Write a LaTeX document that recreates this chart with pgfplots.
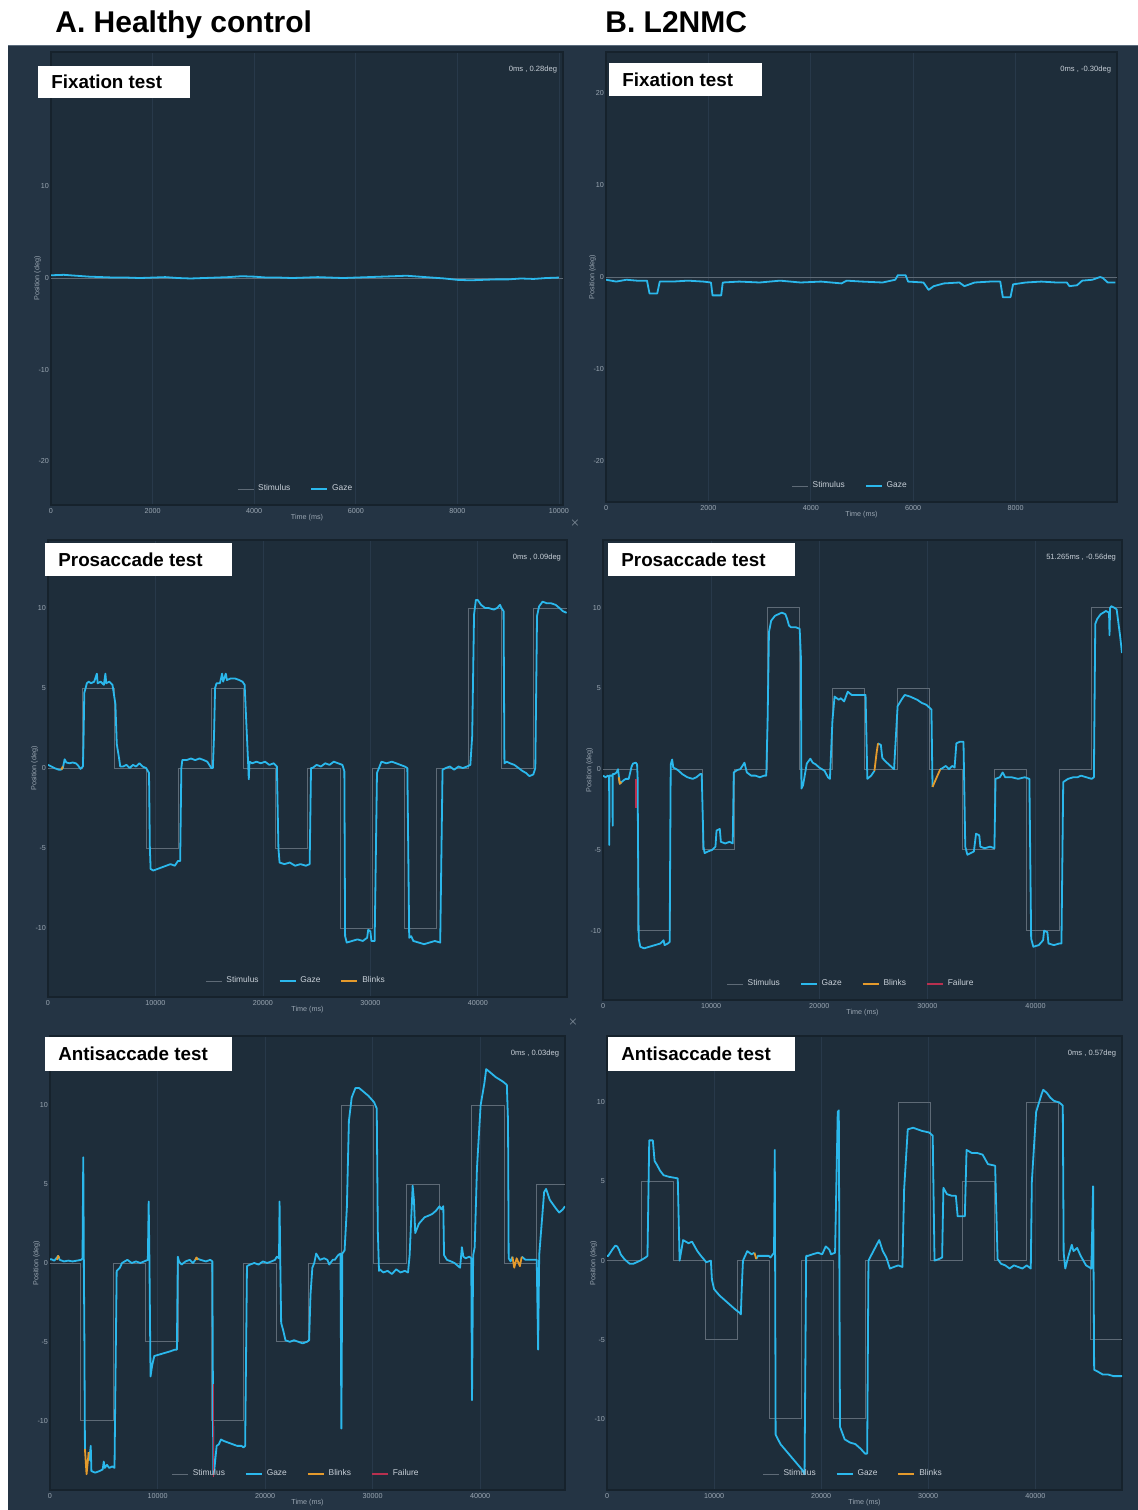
\documentclass[border=0pt]{standalone}
\usepackage{fontspec}
\setmainfont{Liberation Sans}
\usepackage{pgfplots}
\pgfplotsset{compat=1.18}
\definecolor{bg}{HTML}{243444}
\definecolor{plotbg}{HTML}{1E2D3A}
\definecolor{edgec}{HTML}{16222C}
\definecolor{gridc}{HTML}{28394A}
\definecolor{tickc}{HTML}{9AA6B2}
\definecolor{legc}{HTML}{C8D0D8}
\definecolor{stimc}{HTML}{5E6A76}
\definecolor{gazec}{HTML}{2BB8EC}
\definecolor{blinkc}{HTML}{E49A2C}
\definecolor{failc}{HTML}{B8304F}
\definecolor{topline}{HTML}{5A6B7C}
\pgfplotsset{
 panel/.style={
  scale only axis, anchor=south west,
  axis background/.style={fill=plotbg},
  axis line style={draw=edgec, line width=0.6pt},
  xmajorgrids,
  grid style={draw=gridc, line width=0.35pt},
  major tick length=0pt,
  tick label style={font=\fontsize{3.6}{4.3}\selectfont, text=tickc},
  xticklabel style={yshift=2pt},
  yticklabel style={xshift=2.5pt},
  /pgf/number format/assume math mode=true,
  /pgf/number format/1000 sep={},
  scaled x ticks=false,
  xlabel={Time (ms)}, ylabel={Position (deg)},
  label style={font=\fontsize{3.6}{4.3}\selectfont, text=tickc},
  xlabel style={yshift=6.5pt},
  ylabel style={yshift=-8pt},
  legend style={draw=none, fill=none, inner sep=0pt, font=\fontsize{4.2}{5}\selectfont, text=legc, legend columns=-1, at={(0.48,0)}, anchor=south, yshift=3.5pt, /tikz/every even column/.append style={column sep=8pt}},
  legend image code/.code={\draw[##1] (0pt,0pt) -- (8pt,0pt);},
 },
 stim/.style={draw=stimc, line width=0.45pt},
 gaze/.style={draw=gazec, line width=0.9pt, line join=round},
 blink/.style={draw=blinkc, line width=0.9pt, line join=round},
 fail/.style={draw=failc, line width=0.8pt},
}
\newcommand{\legS}{\addlegendimage{draw=stimc, line width=0.45pt}\addlegendentry{Stimulus}}
\newcommand{\legG}{\addlegendimage{draw=gazec, line width=0.9pt}\addlegendentry{Gaze}}
\newcommand{\legB}{\addlegendimage{draw=blinkc, line width=0.9pt}\addlegendentry{Blinks}}
\newcommand{\legF}{\addlegendimage{draw=failc, line width=0.9pt}\addlegendentry{Failure}}
\newcommand{\corner}[1]{\node[anchor=north east, font=\fontsize{3.8}{4.5}\selectfont, text=legc, inner sep=1pt] at (rel axis cs:0.993,0.975) {#1};}
\begin{document}
\begin{tikzpicture}
\useasboundingbox (0pt,0pt) rectangle (569pt,755pt);
\fill[white] (0pt,0pt) rectangle (569pt,755pt);
\fill[bg] (4pt,0pt) rectangle (569pt,732.5pt);
\draw[topline, line width=0.4pt] (4pt,732.5pt) -- (569pt,732.5pt);

% ---------- TL fixation healthy
\begin{axis}[panel, at={(25.5pt,502.5pt)}, width=256pt, height=226.5pt,
 xmin=0, xmax=10080, ymin=-24.8, ymax=24.7,
 xtick={0,2000,4000,6000,8000,10000}, ytick={-20,-10,0,10,20}]
\legS\legG
\addplot[stim, forget plot] coordinates {(0,0) (10080,0)};
\addplot[gaze, forget plot] coordinates {
(0,0.30)(250,0.35)(500,0.25)(750,0.15)(1000,0.10)(1250,0.05)(1500,0.05)(1750,0.00)(2000,0.05)(2250,0.10)(2500,0.00)(2750,-0.05)(3000,0.00)(3250,0.05)(3500,0.10)(3750,0.20)(4000,0.15)(4250,0.05)(4500,0.05)(4750,0.00)(5000,0.05)(5250,0.10)(5500,0.05)(5750,0.00)(6000,0.05)(6250,0.10)(6500,0.15)(6750,0.20)(7000,0.25)(7250,0.15)(7500,0.05)(7750,-0.05)(8000,-0.20)(8250,-0.25)(8500,-0.20)(8750,-0.15)(9000,-0.15)(9250,-0.05)(9500,-0.10)(9750,0.00)(10000,0.05)};
\corner{0ms , 0.28deg}
\end{axis}

% ---------- TR fixation L2NMC
\begin{axis}[panel, at={(303pt,504pt)}, width=255.5pt, height=225pt,
 xmin=0, xmax=9980, ymin=-24.5, ymax=24.5,
 xtick={0,2000,4000,6000,8000}, ytick={-20,-10,0,10,20}]
\legS\legG
\addplot[stim, forget plot] coordinates {(0,0) (9980,0)};
\addplot[gaze, forget plot] coordinates {
(0,-0.3)(200,-0.5)(400,-0.3)(600,-0.4)(800,-0.4)(850,-1.8)(1000,-1.8)(1050,-0.5)(1300,-0.5)(1600,-0.4)(1900,-0.5)(2050,-0.6)(2080,-2.0)(2250,-2.0)(2280,-0.6)(2600,-0.5)(3000,-0.6)(3400,-0.4)(3800,-0.6)(4200,-0.5)(4600,-0.7)(4700,-0.4)(5000,-0.5)(5400,-0.6)(5650,-0.3)(5700,0.2)(5850,0.2)(5900,-0.5)(6200,-0.6)(6300,-1.4)(6400,-1.0)(6600,-0.7)(6900,-0.6)(7000,-1.0)(7200,-0.6)(7500,-0.5)(7700,-0.5)(7750,-2.2)(7900,-2.2)(7950,-0.8)(8200,-0.6)(8500,-0.5)(8800,-0.6)(9000,-0.6)(9050,-1.0)(9200,-0.9)(9300,-0.4)(9500,-0.3)(9650,0.0)(9700,-0.1)(9800,-0.6)(9950,-0.6)};
\corner{0ms , -0.30deg}
\end{axis}

% ---------- ML prosaccade healthy
\begin{axis}[panel, at={(24pt,256.5pt)}, width=259.5pt, height=228.5pt,
 xmin=0, xmax=48300, ymin=-14.3, ymax=14.25,
 xtick={0,10000,20000,30000,40000}, ytick={-10,-5,0,5,10}]
\legS\legG\legB
\addplot[stim, forget plot] coordinates {
(0,0)(3170,0)(3170,5)(6170,5)(6170,0)(9170,0)(9170,-5)(12170,-5)(12170,0)(15170,0)(15170,5)(18170,5)(18170,0)(21170,0)(21170,-5)(24170,-5)(24170,0)(27170,0)(27170,-10)(30170,-10)(30170,0)(33170,0)(33170,-10)(36170,-10)(36170,0)(39170,0)(39170,10)(42170,10)(42170,0)(45170,0)(45170,10)(48300,10)};
\addplot[gaze, forget plot] coordinates {
(0,0.2)(170,0.15)(600,0.0)(1000,-0.1)(1200,-0.1)(1377,0.0)(1550,0.55)(1700,0.35)(2000,0.3)(2300,0.35)(2584,0.3)(2756,0.2)(3032,-0.05)(3250,0.1)(3300,1.5)(3377,4.7)(3500,5.0)(3618,5.3)(3790,5.4)(4000,5.3)(4300,5.4)(4549,5.9)(4620,5.3)(4900,5.4)(5200,5.2)(5342,5.9)(5420,5.3)(5700,5.4)(5860,5.3)(6000,5.2)(6273,4.0)(6400,1.5)(6618,0.6)(6721,0.1)(7000,0.1)(7300,0.2)(7600,0.0)(7900,0.2)(8200,0.1)(8500,0.3)(8800,0.1)(9135,0.0)(9400,-0.3)(9480,-5.0)(9550,-6.3)(9800,-6.4)(10200,-6.3)(10600,-6.2)(11000,-6.1)(11400,-6.0)(11800,-6.1)(12100,-5.8)(12300,-5.8)(12410,0.0)(12500,0.5)(12900,0.5)(13300,0.6)(13700,0.5)(14100,0.6)(14500,0.5)(14824,0.4)(15200,0.0)(15341,0.0)(15450,2.0)(15550,5.0)(15686,5.3)(16000,5.3)(16203,5.9)(16300,5.4)(16548,5.9)(16650,5.5)(17000,5.6)(17400,5.6)(17800,5.5)(18100,5.4)(18300,5.2)(18444,3.0)(18600,0.7)(18686,-0.7)(18750,0.4)(19000,0.3)(19400,0.4)(19800,0.3)(20200,0.4)(20600,0.2)(21000,0.3)(21300,0.1)(21444,-5.0)(21550,-5.9)(22000,-6.0)(22500,-5.9)(23000,-6.1)(23500,-6.0)(24000,-6.1)(24350,-6.0)(24478,0.0)(24600,0.0)(25000,0.2)(25400,0.1)(25800,0.3)(26200,0.2)(26600,0.4)(27000,0.3)(27400,0.2)(27581,-0.2)(27650,-10.5)(27800,-10.9)(28300,-10.8)(28800,-10.7)(29300,-10.8)(29700,-10.6)(29800,-10.1)(30000,-10.2)(30100,-10.8)(30400,-10.8)(30616,-0.3)(30800,0.0)(31030,0.4)(31500,0.3)(32000,0.4)(32409,0.3)(32800,0.2)(33200,0.1)(33443,0.0)(33615,-10.6)(33800,-10.5)(34000,-10.8)(34500,-10.9)(35000,-11.0)(35500,-10.9)(36000,-10.8)(36500,-10.9)(36718,-0.1)(37000,0.0)(37400,0.1)(37800,-0.1)(38200,0.1)(38600,0.0)(39000,0.1)(39304,0.2)(39476,2.0)(39650,9.6)(39821,10.5)(39993,10.5)(40300,10.2)(40683,10.0)(41000,10.0)(41500,9.9)(41800,10.0)(42062,10.2)(42200,10.0)(42400,9.8)(42476,0.3)(42700,0.4)(43000,0.3)(43400,0.2)(43800,0.0)(44200,-0.2)(44476,-0.3)(44800,-0.5)(45166,-0.4)(45350,0.0)(45511,9.5)(45700,10.1)(46028,10.4)(46400,10.3)(46800,10.3)(47235,10.2)(47600,10.0)(47924,9.8)(48269,9.7)};
\addplot[blink, forget plot] coordinates {(1250,-0.1)(1377,0.1)};
\corner{0ms , 0.09deg}
\end{axis}

% ---------- MR prosaccade L2NMC
\begin{axis}[panel, at={(301.5pt,255pt)}, width=259.5pt, height=230pt,
 xmin=0, xmax=48000, ymin=-14.3, ymax=14.2,
 xtick={0,10000,20000,30000,40000}, ytick={-10,-5,0,5,10}]
\legS\legG\legB\legF
\addplot[stim, forget plot] coordinates {
(0,0)(3200,0)(3200,-10)(6200,-10)(6200,0)(9200,0)(9200,-5)(12200,-5)(12200,0)(15200,0)(15200,10)(18200,10)(18200,0)(21200,0)(21200,5)(24200,5)(24200,0)(27200,0)(27200,5)(30200,5)(30200,0)(33200,0)(33200,-5)(36200,-5)(36200,0)(39200,0)(39200,-10)(42200,-10)(42200,0)(45200,0)(45200,10)(48000,10)};
\addplot[gaze, forget plot] coordinates {
(0,-0.4)(235,-0.5)(450,-0.4)(565,-0.5)(580,-4.7)(600,-0.4)(880,-0.4)(894,-3.5)(910,-0.3)(1059,-0.3)(1250,-0.2)(1388,0.0)(1553,-0.9)(1882,-0.7)(2100,-0.6)(2376,-0.6)(2640,0.15)(2772,0.35)(3035,0.4)(3150,0.3)(3200,-0.5)(3300,-10.5)(3450,-11.0)(3800,-11.1)(4300,-11.0)(4800,-10.9)(5300,-10.8)(5600,-10.6)(5700,-10.9)(6000,-10.8)(6165,-10.7)(6263,0.3)(6395,0.6)(6500,0.1)(6800,0.0)(7000,-0.1)(7318,-0.3)(7800,-0.5)(8300,-0.6)(8635,-0.5)(9000,-0.3)(9129,-0.3)(9294,-4.8)(9400,-5.2)(9700,-5.1)(10100,-5.0)(10400,-4.8)(10500,-3.8)(10800,-3.7)(10900,-4.5)(11300,-4.6)(11700,-4.5)(12000,-4.6)(12094,-0.2)(12423,-0.05)(12700,0.0)(13082,0.4)(13300,-0.2)(13700,-0.4)(14100,-0.4)(14500,-0.5)(14900,-0.4)(15100,-0.4)(15223,3.0)(15350,8.5)(15553,9.2)(15900,9.5)(16211,9.6)(16541,9.7)(16870,9.6)(17035,9.3)(17200,8.9)(17364,8.8)(17800,8.8)(18188,8.7)(18300,7.0)(18352,-1.2)(18500,-1.0)(18847,0.35)(19176,0.65)(19400,0.4)(19670,0.3)(20000,0.1)(20494,-0.1)(20800,-0.5)(20988,-0.6)(21218,3.0)(21416,4.5)(21811,4.3)(22000,4.4)(22300,4.2)(22635,4.8)(23000,4.6)(23600,4.6)(24000,4.6)(24282,4.6)(24446,-0.6)(24800,-0.4)(25105,-0.1)};
\addplot[gaze, forget plot] coordinates {
(25435,1.6)(25698,1.5)(25830,0.7)(26093,0.5)(26587,0.2)(26917,0.0)(27246,3.9)(27600,4.3)(27905,4.6)(28400,4.5)(29058,4.3)(29500,4.1)(29881,4.0)(30376,3.7)(30474,-1.1)};
\addplot[gaze, forget plot] coordinates {
(31199,0.0)(31364,0.05)(31700,0.2)(32000,0.0)(32300,0.2)(32517,0.1)(32681,1.6)(33000,1.7)(33340,1.7)(33505,-4.8)(33700,-5.3)(34000,-5.2)(34300,-5.1)(34500,-4.0)(34800,-4.1)(34900,-4.8)(35300,-4.9)(35800,-4.8)(36200,-4.9)(36305,-0.6)(36700,-0.5)(36964,-0.2)(37200,-0.5)(37800,-0.5)(38400,-0.6)(39000,-0.5)(39434,-0.6)(39599,-10.5)(39800,-11.0)(40300,-10.9)(40700,-10.6)(40800,-10.0)(41100,-10.1)(41200,-10.8)(41700,-10.9)(42200,-10.8)(42400,-10.8)(42564,-0.8)(43000,-0.6)(43500,-0.5)(43881,-0.5)(44211,-0.4)(44700,-0.5)(45199,-0.6)(45400,-0.5)(45528,9.0)(45700,9.3)(46022,9.6)(46516,9.8)(46800,9.7)(46846,8.3)(46900,10.0)(47011,10.1)(47300,10.0)(47505,9.9)(47834,8.2)(48000,7.2)};
\addplot[blink, forget plot] coordinates {(1450,-0.5)(1553,-0.9)(1700,-0.8)};
\addplot[blink, forget plot] coordinates {(25105,-0.1)(25300,1.0)(25435,1.6)};
\addplot[blink, forget plot] coordinates {(30474,-1.1)(30800,-0.6)(31199,0.0)};
\addplot[fail, forget plot] coordinates {(3050,-0.6)(3050,-2.4)};
\corner{51.265ms , -0.56deg}
\end{axis}

% ---------- BL antisaccade healthy
\begin{axis}[panel, at={(25pt,10pt)}, width=257.5pt, height=227pt,
 xmin=0, xmax=47900, ymin=-14.4, ymax=14.4,
 xtick={0,10000,20000,30000,40000}, ytick={-10,-5,0,5,10}]
\legS\legG\legB\legF
\addplot[stim, forget plot] coordinates {
(0,0)(2850,0)(2850,-10)(5880,-10)(5880,0)(8910,0)(8910,-5)(11940,-5)(11940,0)(14970,0)(14970,-10)(18000,-10)(18000,0)(21030,0)(21030,-5)(24060,-5)(24060,0)(27090,0)(27090,10)(30120,10)(30120,0)(33150,0)(33150,5)(36180,5)(36180,0)(39210,0)(39210,10)(42240,10)(42240,0)(45270,0)(45270,5)(47900,5)};
\addplot[gaze, forget plot] coordinates {
(0,0.2)(70,0.25)(400,0.15)(764,0.45)(900,0.2)(1300,0.1)(1700,0.15)(2100,0.1)(2500,0.15)(2900,0.2)(3024,0.3)(3093,6.7)(3150,0.0)(3200,-5.0)(3250,-11.8)};
\addplot[gaze, forget plot] coordinates {
(3600,-12.0)(3650,-12.5)(3790,-11.6)(3850,-13.2)(4200,-13.3)(4600,-13.2)(4900,-13.1)(5000,-12.6)(5100,-13.0)(5300,-12.8)(5500,-13.0)(5800,-12.9)(6000,-13.0)(6200,-0.5)(6500,-0.3)(6700,0.0)(7196,0.2)(7600,0.0)(8000,0.1)(8400,0.0)(8760,0.1)(9100,0.2)(9178,3.9)(9250,0.0)(9350,-7.2)(9500,-6.5)(9700,-5.9)(10200,-5.8)(10700,-5.7)(11200,-5.6)(11600,-5.5)(11800,-5.5)(11890,0.4)(12000,0.1)(12240,-0.1)(12600,0.1)(13000,0.2)(13300,0.0)(13630,0.3)(14000,0.2)(14500,0.1)(14900,0.2)(15100,0.1)(15190,-13.4)(15300,-13.0)(15500,-11.6)(15700,-11.5)(15900,-11.2)(16200,-11.3)(16600,-11.4)(17000,-11.5)(17400,-11.6)(17800,-11.6)(18000,-11.7)(18150,-11.6)(18320,-0.2)(18600,-0.1)(19000,0.0)(19400,-0.1)(19800,0.1)(20200,0.0)(20600,0.1)(20930,0.2)(21100,0.4)(21300,0.3)(21350,3.9)(21420,0.0)(21500,-3.8)(21700,-4.3)(21900,-4.9)(22300,-5.0)(22700,-4.9)(23100,-5.0)(23500,-5.1)(23900,-5.0)(24100,-4.9)(24230,-2.0)(24400,-0.3)(24580,0.0)(24755,0.6)(25100,0.2)(25500,0.3)(25800,0.2)(25970,-0.1)(26300,0.2)(26490,0.2)(26800,0.5)(27015,0.6)(27100,-10.5)(27190,0.6)(27400,0.8)(27610,3.5)(27800,9.0)(28060,10.5)(28410,11.1)(28750,11.1)(29100,10.9)(29620,10.6)(30140,10.2)(30390,9.8)(30490,2.0)(30600,-0.5)(30670,-0.4)(31000,-0.6)(31400,-0.5)(31800,-0.7)(32200,-0.4)(32600,-0.6)(33000,-0.5)(33300,-0.6)(33450,0.5)(33730,4.9)(33850,4.0)(33970,1.9)(34320,2.5)(34840,2.9)(35200,3.0)(35530,3.1)(35880,3.3)(36230,3.6)(36400,3.4)(36580,3.6)(36650,0.5)(36920,0.2)(37300,0.1)(37620,0.0)(38140,-0.3)(38310,1.0)(38450,0.4)(38660,0.3)(39000,0.4)(39180,0.3)(39250,-8.7)(39360,0.5)(39500,1.0)(39710,6.0)(40050,10.0)(40400,11.4)(40570,12.3)(41100,12.0)(41440,11.8)(42140,11.5)(42490,11.3)(42600,9.0)(42660,0.3)(42840,0.1)(43010,0.4)};
\addplot[gaze, forget plot] coordinates {
(43880,0.4)(44230,0.2)(44800,0.2)(45270,0.2)(45400,-5.5)(45500,0.5)(45960,4.5)(46140,4.7)(46490,4.0)(47010,3.5)(47360,3.2)(47700,3.4)(47900,3.6)};
\addplot[blink, forget plot] coordinates {(650,0.2)(764,0.45)(850,0.3)};
\addplot[blink, forget plot] coordinates {(3250,-11.8)(3400,-13.4)(3600,-12.0)};
\addplot[blink, forget plot] coordinates {(13500,0.2)(13630,0.35)(13750,0.2)};
\addplot[blink, forget plot] coordinates {(43010,0.4)(43180,-0.3)(43400,0.3)(43700,-0.2)(43880,0.4)};
\addplot[fail, forget plot] coordinates {(15190,-7.7)(15190,-13.6)};
\corner{0ms , 0.03deg}
\end{axis}

% ---------- BR antisaccade L2NMC
\begin{axis}[panel, at={(303.5pt,10pt)}, width=257.5pt, height=227pt,
 xmin=0, xmax=48100, ymin=-14.5, ymax=14.2,
 xtick={0,10000,20000,30000,40000}, ytick={-10,-5,0,5,10}]
\legS\legG\legB
\addplot[stim, forget plot] coordinates {
(0,0)(3180,0)(3180,5)(6180,5)(6180,0)(9180,0)(9180,-5)(12180,-5)(12180,0)(15180,0)(15180,-10)(18180,-10)(18180,0)(21180,0)(21180,-10)(24180,-10)(24180,0)(27180,0)(27180,10)(30180,10)(30180,0)(33180,0)(33180,5)(36180,5)(36180,0)(39180,0)(39180,10)(42180,10)(42180,0)(45180,0)(45180,-5)(48100,-5)};
\addplot[gaze, forget plot] coordinates {
(0,0.3)(116,0.3)(500,0.7)(780,0.95)(950,0.9)(1115,0.7)(1280,0.4)(1615,0.1)(2115,-0.2)(2450,-0.2)(2780,-0.1)(3110,0.0)(3610,0.2)(3780,0.3)(3945,7.6)(4280,7.6)(4445,6.3)(4710,6.0)(4945,5.7)(5280,5.4)(5780,5.3)(6610,5.2)(6780,0.0)(7110,1.3)(7610,1.1)(7940,1.2)(8440,0.6)(8775,0.3)(9275,-0.1)(9700,0.0)(9800,-1.2)(10000,-1.8)(10500,-2.2)(11000,-2.5)(11500,-2.8)(12000,-3.1)(12400,-3.3)(12500,-3.4)(12600,-1.5)(12700,0.0)(13100,0.6)(13500,0.4)(13770,0.5)};
\addplot[gaze, forget plot] coordinates {
(13940,0.1)(14100,0.3)(14600,0.3)(15100,0.3)(15270,0.2)(15600,0.5)(15670,7.0)(15750,-11.0)(16200,-11.6)(16700,-12.0)(17200,-12.4)(17700,-12.8)(18200,-13.2)(18450,-13.5)(18600,0.3)(18760,0.3)(19200,0.4)(19700,0.5)(20100,0.4)(20430,0.9)(20760,0.7)(20930,0.4)(21300,0.5)(21550,9.4)(21650,9.5)(21760,-10.5)(22200,-11.3)(22700,-11.5)(23200,-11.6)(23700,-11.9)(24100,-12.2)(24300,-12.2)(24420,0.0)(24800,0.5)(25420,1.3)(25760,0.6)(26090,0.2)(26420,-0.5)(26800,-0.4)(27200,-0.3)(27590,-0.4)(27750,4.5)(28090,8.3)(28590,8.4)(29000,8.3)(29420,8.2)(30090,8.1)(30420,7.9)(30590,0.0)(31000,0.1)(31300,0.2)(31420,4.6)(31750,4.2)(32200,4.1)(32580,4.1)(32750,2.8)(32920,2.8)(33420,2.8)(33580,7.0)(34080,6.8)(34600,6.8)(35080,6.7)(35580,6.1)(36250,6.0)(36480,0.1)(36800,-0.2)(37200,-0.3)(37600,-0.5)(38000,-0.3)(38400,-0.4)(38800,-0.5)(39200,-0.3)(39580,-0.5)(39680,5.0)(40080,9.4)(40580,10.5)(40740,10.8)(41080,10.6)(41410,10.3)(41740,10.1)(42240,10.0)(42570,9.8)(42650,0.5)(42800,-0.5)(43100,0.3)(43410,1.0)(43570,0.6)(43910,0.8)(44240,0.3)(44740,-0.3)(45240,-0.5)(45400,4.7)(45500,-6.9)(45800,-7.0)(46300,-7.2)(46800,-7.2)(47300,-7.3)(48100,-7.3)};
\addplot[blink, forget plot] coordinates {(13770,0.5)(13940,0.1)};
\corner{0ms , 0.57deg}
\end{axis}

% ---------- titles and labels
\node[anchor=base west, font=\fontsize{15}{18}\selectfont\bfseries, inner sep=0pt] at (27.5pt,738.5pt) {A. Healthy control};
\node[anchor=base west, font=\fontsize{15}{18}\selectfont\bfseries, inner sep=0pt] at (302.5pt,738.5pt) {B. L2NMC};
\newcommand{\tbox}[5]{\fill[white] (#1pt,#2pt) rectangle ++(#3pt,-#4pt); \node[anchor=west, font=\fontsize{9.4}{11}\selectfont\bfseries, inner sep=0pt] at ({#1pt+6.5pt},{#2pt-#4pt/2}) {#5};}
\tbox{19}{722}{76}{16}{Fixation test}
\tbox{304.5}{723.5}{76.5}{16.5}{Fixation test}
\tbox{22.5}{483.5}{93.5}{16.5}{Prosaccade test}
\tbox{304}{483.5}{93.5}{16.5}{Prosaccade test}
\tbox{22.5}{236.5}{93.5}{17}{Antisaccade test}
\tbox{304}{236.5}{93.5}{17}{Antisaccade test}
\node[text=tickc, font=\fontsize{4}{4}\selectfont] at (287.5pt,493.5pt) {$\times$};
\node[text=tickc, font=\fontsize{4}{4}\selectfont] at (286.5pt,244pt) {$\times$};
\end{tikzpicture}
\end{document}
